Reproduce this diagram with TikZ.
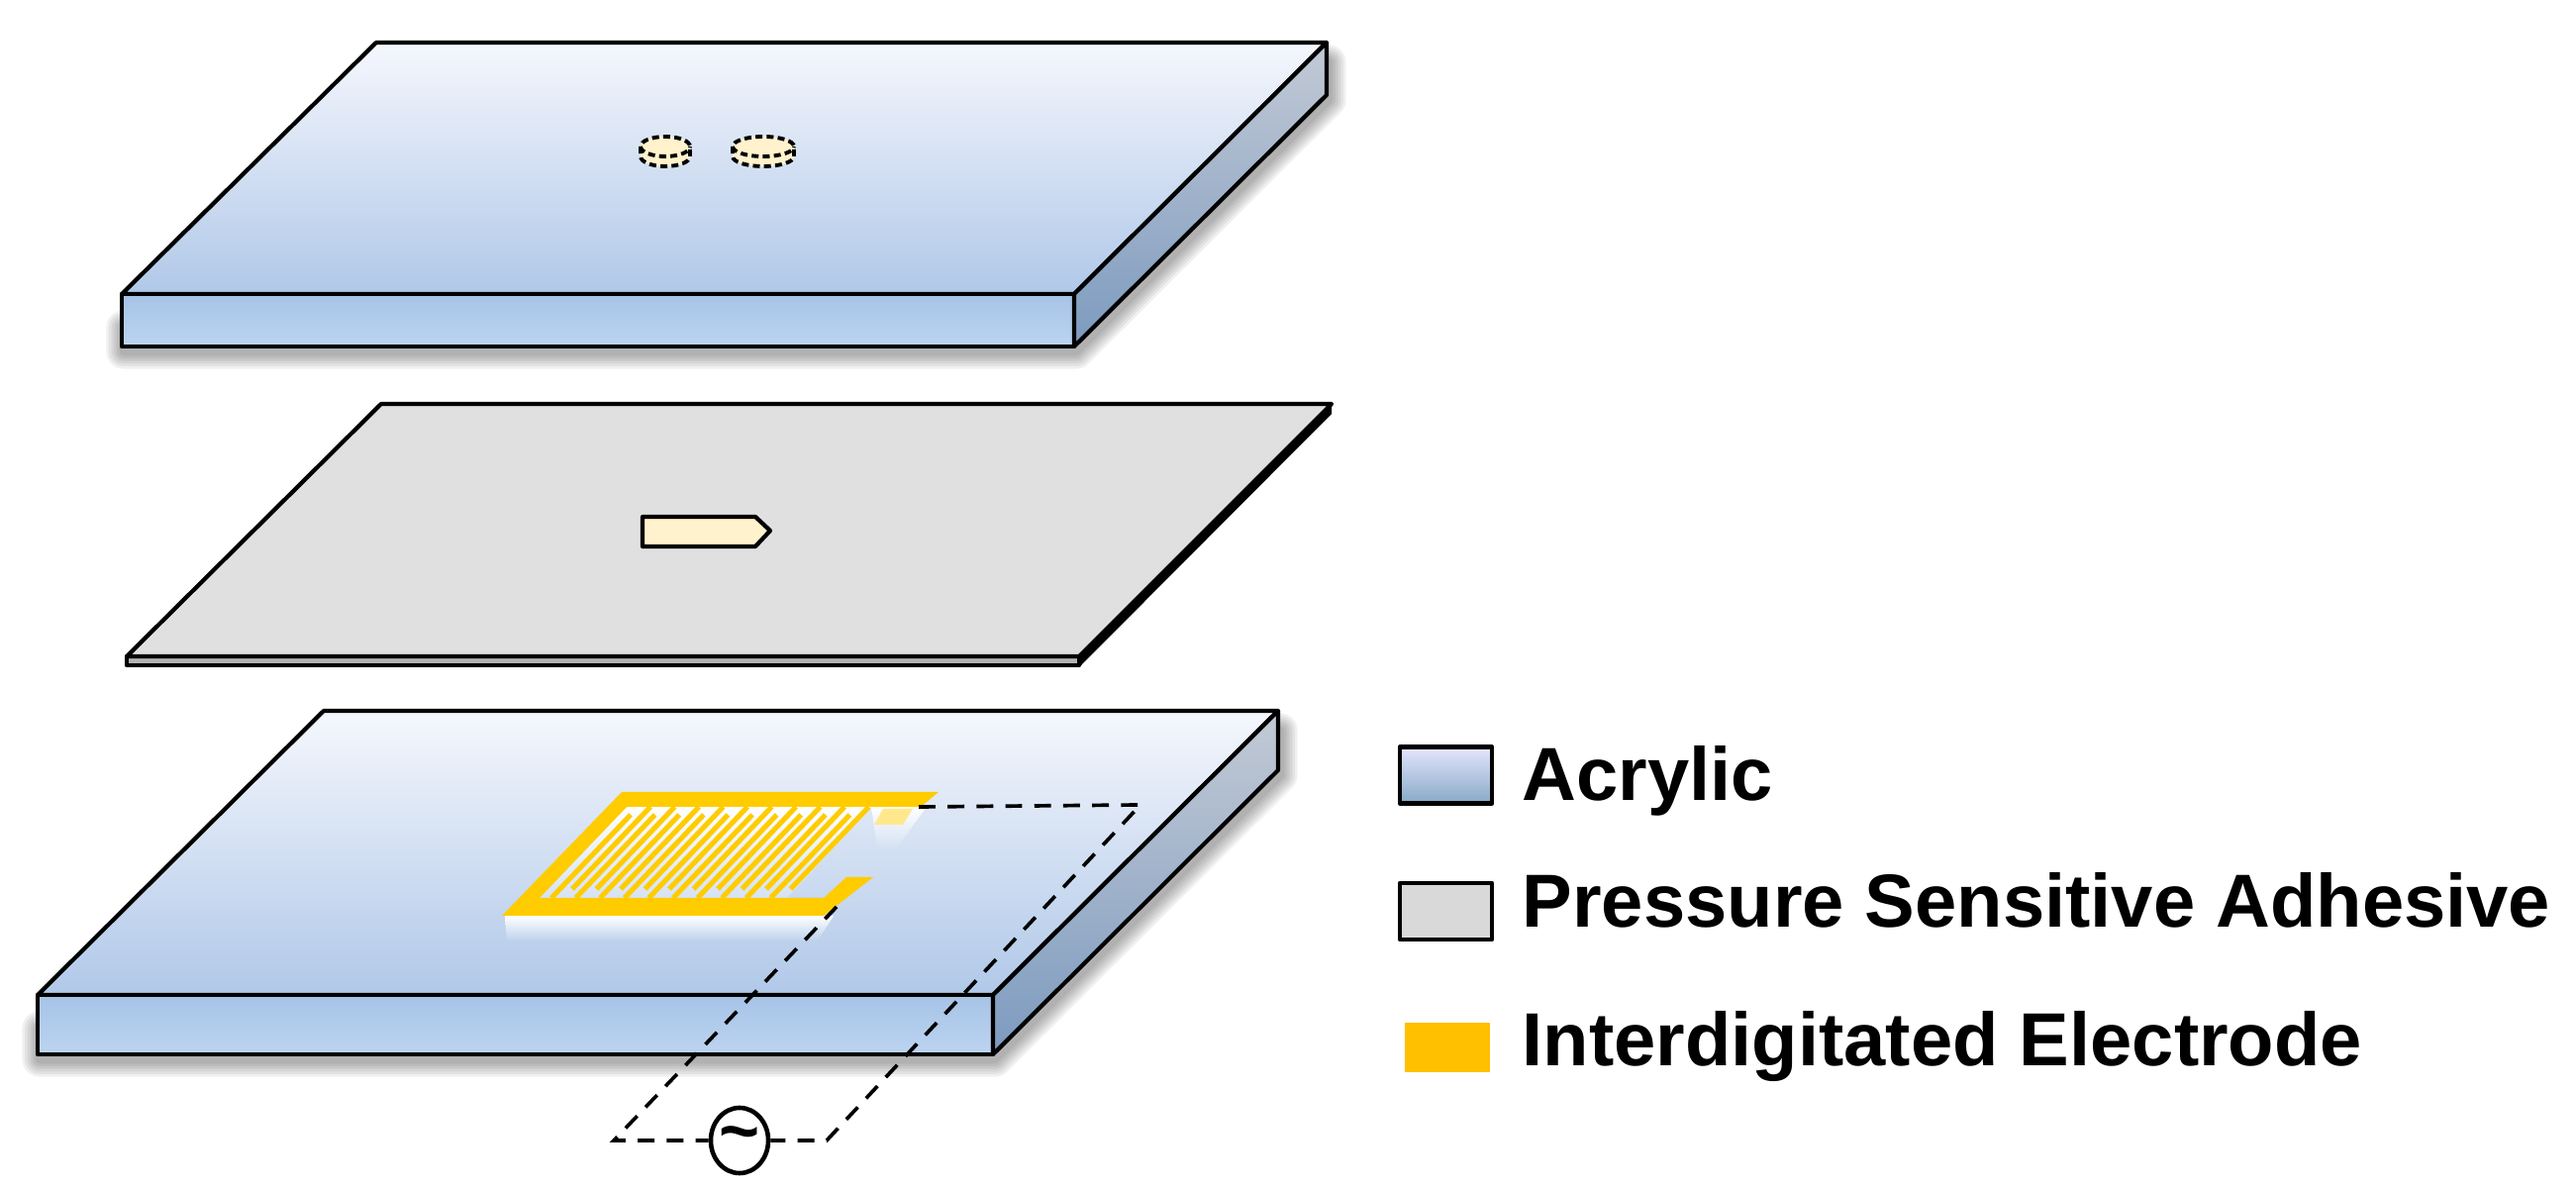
\documentclass[tikz,border=0pt]{standalone}
\usepackage{fontspec}
\setmainfont{Liberation Sans}
\usetikzlibrary{shapes.geometric}
\definecolor{topface}{HTML}{F5F7FD}
\definecolor{lowface}{HTML}{B0C8E8}
\definecolor{frontup}{HTML}{A6C3E6}
\definecolor{frontlow}{HTML}{BDD4F1}
\definecolor{sideup}{HTML}{C3CAD5}
\definecolor{sidelow}{HTML}{7C9ABF}
\definecolor{cream}{HTML}{FFF2CC}
\definecolor{gold}{HTML}{FFCC00}
\definecolor{amber}{HTML}{FFC000}
\begin{document}
\begin{tikzpicture}[x=0.01cm,y=-0.01cm,
    outline/.style={draw=black,line width=1.2pt,line join=round},
    wire/.style={black,line width=1.05pt,dash pattern=on 4.8pt off 3.5pt},
    finger/.style={gold,line width=1.45pt},
    dotted hole/.style={line width=1.1pt,dash pattern=on 2pt off 1.2pt},
    legendlabel/.style={anchor=base west,inner sep=0pt,font=\bfseries\fontsize{21.6}{26}\selectfont},
    legendbox/.style={outline,line width=1.25pt,minimum width=0.93cm,minimum height=0.57cm,inner sep=0pt}]
  \useasboundingbox (0,0) rectangle (2602,1201);

  \foreach \xa/\xb/\xc/\xd/\ya/\yb/\yc/\ye in {380/1340/123/1085/43/297/350/96,
                                               327/1291/38/1003/718/1005/1065/778}
  {
    \foreach \w in {10,8.5,7,5.5,4,2.5}
    {
      \draw[black,opacity=0.06,line width=\w pt,line join=round,line cap=round]
        (\xc+2,\yb+34) -- (\xc+2,\yc+5) -- (\xd+2,\yc+5) -- (\xb+2,\ye+5) -- (\xb+2,\ya+20);
    }
    \draw[outline,top color=topface,bottom color=lowface]
      (\xa,\ya) -- (\xb,\ya) -- (\xd,\yb) -- (\xc,\yb) -- cycle;
    \draw[outline,top color=frontup,bottom color=frontlow]
      (\xc,\yb) rectangle (\xd,\yc);
    \draw[outline,top color=sideup,bottom color=sidelow]
      (\xb,\ya) -- (\xb,\ye) -- (\xd,\yc) -- (\xd,\yb) -- cycle;
  }

  \foreach \cx/\rx in {672/25,771/31}
  {
    \draw[fill=cream,dotted hole]
      (\cx-\rx,148) -- (\cx-\rx,158) arc (180:360:\rx pt*0.2845 and 2.845pt) -- (\cx+\rx,148)
      arc (0:180:\rx pt*0.2845 and 2.845pt);
    \draw[dotted hole]
      (\cx-\rx,148) arc (180:360:\rx pt*0.2845 and 2.845pt);
  }

  \fill[black] (1345,408) -- (1345,418) -- (1092,672) -- (1090,662) -- cycle;
  \draw[outline,fill=black!30] (128,663) rectangle (1090,672);
  \draw[outline,fill=black!12] (385,408) -- (1345,408) -- (1090,663) -- (128,663) -- cycle;
  \draw[outline,fill=cream] (649,522) -- (763,522) -- (778,536) -- (763,552) -- (649,552) -- cycle;

  \shade[top color=white,middle color=white,bottom color=lowface!80!topface]
    (510,925) -- (842,925) -- (826,950) -- (512,950) -- cycle;
  \shade[top color=white,bottom color=lowface!47!topface]
    (880,815) -- (936,815) -- (906,856) -- (886,856) -- cycle;
  \fill[gold!45] (892,817) -- (922,817) -- (912,833) -- (883,833) -- cycle;
  \shade[top color=white,bottom color=lowface!45!topface]
    (633,815) -- (880,815) -- (795,907) -- (545,907) -- cycle;

  \foreach \i in {0,...,9}
  {
    \draw[finger] ({657+24.5*\i},815) -- ++(-79,83);
    \draw[finger] ({557+24.6*\i},907) -- ++(80,-84);
  }
  \fill[gold] (628,800) -- (948,800) -- (930,815) -- (633,815) -- (545,907) -- (832,907)
    -- (855,886) -- (882,886) -- (832,925) -- (507,925) -- cycle;

  \node[ellipse,draw=black,line width=1.3pt,minimum width=0.56cm,minimum height=0.66cm,inner sep=0pt,
        font=\bfseries\fontsize{20}{20}\selectfont] (source) at (747,1152) {\raisebox{-1.8pt}{\textasciitilde}};
  \coordinate (padtop) at (928,815);
  \coordinate (cornerup) at (1152,813);
  \coordinate (cornerlow) at (835,1152);
  \coordinate (padlow) at (845,916);
  \coordinate (cornerleft) at (620,1152);
  \draw[wire] (padtop) -- (cornerup) -- (cornerlow) -- (source);
  \draw[wire] (padlow) -- (cornerleft) -- (source);

  \node[legendbox,top color=blue!10!white,bottom color=blue!45!cyan!35!gray!70] (boxacrylic) at (1460.5,783) {};
  \node[legendbox,fill=black!15] (boxadhesive) at (1460.5,920.5) {};
  \node[fill=amber,minimum width=0.86cm,minimum height=0.5cm,inner sep=0pt] (boxelectrode) at (1462,1058) {};
  \node[legendlabel] (textacrylic) at (1537,809) {Acrylic};
  \node[legendlabel] (textadhesive) at (1537,937) {Pressure Sensitive Adhesive};
  \node[legendlabel] (textelectrode) at (1537,1077) {Interdigitated Electrode};
\end{tikzpicture}
\end{document}
